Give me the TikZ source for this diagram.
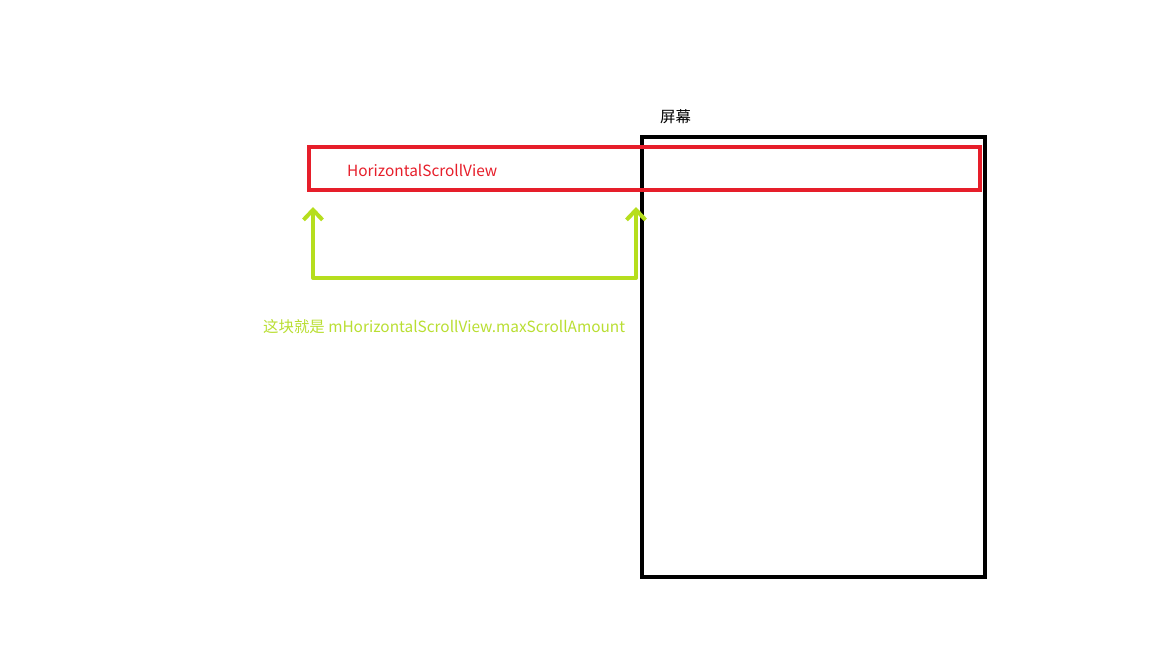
\documentclass[tikz,border=0pt]{standalone}
\usepackage{fontspec}
\setmainfont{Noto Sans CJK SC}
\usetikzlibrary{positioning, arrows.meta}

\definecolor{hsvred}{RGB}{230,30,42}
\definecolor{amtgreen}{RGB}{182,222,30}
\definecolor{txtgreen}{RGB}{185,222,50}

\begin{document}
\begin{tikzpicture}[
	x=1pt, y=-1pt,
	screenbox/.style={rectangle, draw=black, line width=4.5pt, inner sep=0pt, minimum width=343pt, minimum height=440pt},
	hsvbox/.style={rectangle, draw=hsvred, line width=4.5pt, inner sep=0pt, minimum width=671pt, minimum height=43pt},
	mylabel/.style={font=\fontsize{15.4}{17}\selectfont, inner sep=0pt},
	amount/.style={amtgreen, line width=4pt, line join=round, {Straight Barb[length=10pt, width=19pt, line width=4pt]}-{Straight Barb[length=10pt, width=19pt, line width=4pt]}},
	>=LaTeX
]
\useasboundingbox (0,0) rectangle (1152,648);

\node[screenbox] (screen) at (813.5,357) {};
\node[hsvbox] (hsv) at (644.5,168.5) {};
\node[mylabel, anchor=south west] (screenlbl) at (660,124) {屏幕};
\node[mylabel, anchor=west, text=hsvred] (hsvlbl) at (347,170) {HorizontalScrollView};
\node[mylabel, anchor=west, text=txtgreen] (amountlbl) at (263,327) {这块就是 mHorizontalScrollView.maxScrollAmount};

\coordinate (ltop) at (313,207);
\coordinate (rtop) at (636,207);
\coordinate (lbot) at (313,278);
\coordinate (rbot) at (636,278);

\draw[amount] (ltop) -- (lbot) -- (rbot) -- (rtop);

\end{tikzpicture}
\end{document}
